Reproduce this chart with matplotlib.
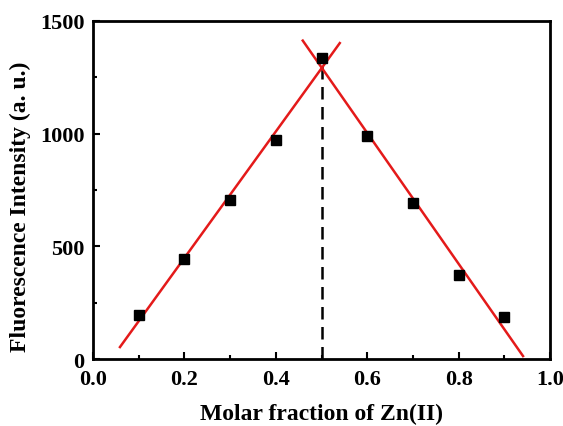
import matplotlib.pyplot as plt
from matplotlib.ticker import MultipleLocator

plt.rcParams['font.family'] = ['Liberation Serif', 'DejaVu Serif']
plt.rcParams['font.weight'] = 'bold'

# measured points
fraction = [0.1, 0.2, 0.3, 0.4, 0.5, 0.6, 0.7, 0.8, 0.9]
intensity = [195, 442, 705, 970, 1334, 990, 692, 372, 188]

# fitted lines (end points)
left_fit_x = [0.059, 0.540]
left_fit_y = [53, 1402]
right_fit_x = [0.459, 0.941]
right_fit_y = [1413, 13]

peak_x = [0.5, 0.5]
peak_y = [0, 1310]

fig = plt.figure(figsize=(5.63, 4.27), dpi=100)
ax = fig.add_axes([93 / 563, 1 - 360 / 427, 457 / 563, 338 / 427])

ax.plot(left_fit_x, left_fit_y, color='#e41a1a', lw=1.8, zorder=2)
ax.plot(right_fit_x, right_fit_y, color='#e41a1a', lw=1.8, zorder=2)
ax.plot(peak_x, peak_y, color='black', lw=1.8, ls=(0, (5, 3)), zorder=1)
ax.plot(fraction, intensity, 's', color='black', ms=7.5, zorder=3)

ax.set_xlim(0.0, 1.0)
ax.set_ylim(0, 1500)
ax.xaxis.set_major_locator(MultipleLocator(0.2))
ax.xaxis.set_minor_locator(MultipleLocator(0.1))
ax.yaxis.set_major_locator(MultipleLocator(500))
ax.yaxis.set_minor_locator(MultipleLocator(250))
ax.tick_params(which='both', direction='in', width=1.5, labelsize=16)
ax.tick_params(axis='x', pad=7)
ax.tick_params(axis='y', pad=6)
ax.tick_params(which='major', length=5)
ax.tick_params(which='minor', length=3)
for s in ax.spines.values():
    s.set_linewidth(2)

ax.set_xlabel('Molar fraction of Zn(II)', fontsize=17, fontweight='bold', labelpad=10)
ax.set_ylabel('Fluorescence Intensity (a. u.)', fontsize=17, fontweight='bold')
ax.yaxis.set_label_coords(-0.135, 0.453)

fig.savefig('out.png', dpi=100)
